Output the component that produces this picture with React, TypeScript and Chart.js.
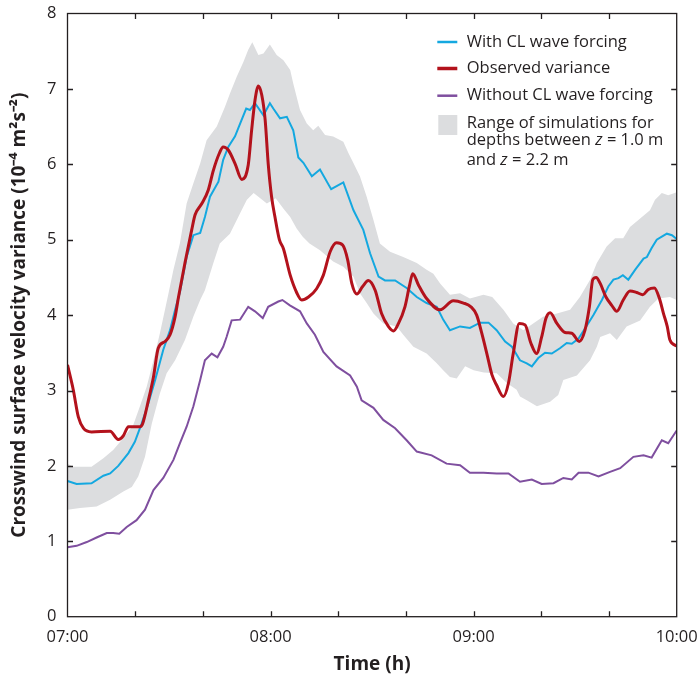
import React, { useEffect, useRef } from "react";
import { Chart, registerables } from "chart.js";

Chart.register(...registerables);

// Time in minutes after 07:00
const withoutT = [0, 2.7, 5.7, 8.6, 11.6, 13.5, 15.3, 17.5, 20.4, 22.9, 25.4, 28.3, 31.3, 33.2, 35.2, 37.2, 39.2, 40.6, 42.6, 44.3, 46, 47, 48.5, 51, 53.4, 55.4, 57.7, 59.3, 62.3, 63.5, 65.7, 68.7, 70.7, 73.1, 75.6, 79.5, 83.5, 85.5, 86.9, 90.4, 93.3, 96.8, 100.2, 103.2, 107.6, 112, 116, 118.9, 122.9, 126.8, 130.3, 133.7, 137.2, 140.1, 143.6, 146.5, 149, 151, 153.9, 156.9, 160.3, 163.3, 167.2, 170.2, 172.6, 175.6, 177.5, 180];
const withoutV = [0.92, 0.94, 0.99, 1.05, 1.11, 1.11, 1.1, 1.19, 1.28, 1.42, 1.68, 1.84, 2.08, 2.3, 2.52, 2.79, 3.14, 3.4, 3.49, 3.44, 3.58, 3.71, 3.93, 3.94, 4.11, 4.05, 3.96, 4.11, 4.18, 4.2, 4.13, 4.05, 3.89, 3.74, 3.51, 3.32, 3.2, 3.05, 2.87, 2.77, 2.61, 2.5, 2.34, 2.19, 2.14, 2.03, 2.01, 1.91, 1.91, 1.9, 1.9, 1.79, 1.82, 1.76, 1.77, 1.84, 1.82, 1.91, 1.91, 1.86, 1.92, 1.97, 2.12, 2.14, 2.11, 2.34, 2.3, 2.47];

const withT = [0, 2.7, 7.1, 10.6, 12.6, 15, 18, 19.9, 21.9, 23.9, 25.9, 28.3, 30.3, 31.8, 33.2, 35.2, 37.2, 39.2, 40.6, 42.1, 44.6, 46, 47.5, 49.5, 51, 52.8, 53.9, 55.4, 57.9, 59.8, 60.8, 62.8, 64.8, 66.7, 68.2, 69.7, 72.2, 74.6, 77.9, 81.5, 84.5, 87.4, 89.4, 91.9, 93.8, 96.8, 100.2, 103.2, 106.1, 109.1, 111, 113, 116, 118.9, 121.9, 124.4, 126.8, 129.3, 131.3, 133.7, 135.7, 137.2, 139.1, 141.1, 143.1, 145.5, 147.5, 149, 151, 153, 155.4, 157.9, 159.8, 161.3, 162.8, 164.1, 165.7, 167.7, 170.2, 171.2, 172.6, 174.1, 175.6, 177.1, 178.6, 180];
const withV = [1.8, 1.76, 1.77, 1.87, 1.9, 2.0, 2.17, 2.32, 2.56, 2.83, 3.14, 3.54, 3.8, 4.07, 4.3, 4.77, 5.06, 5.09, 5.3, 5.57, 5.77, 6.06, 6.23, 6.37, 6.54, 6.74, 6.72, 6.81, 6.65, 6.81, 6.74, 6.61, 6.63, 6.45, 6.09, 6.02, 5.84, 5.93, 5.67, 5.76, 5.39, 5.13, 4.82, 4.51, 4.46, 4.46, 4.36, 4.24, 4.16, 4.11, 3.94, 3.8, 3.85, 3.83, 3.9, 3.9, 3.8, 3.65, 3.58, 3.4, 3.36, 3.32, 3.43, 3.5, 3.49, 3.56, 3.63, 3.62, 3.69, 3.83, 4.0, 4.2, 4.38, 4.47, 4.49, 4.53, 4.47, 4.6, 4.75, 4.77, 4.89, 5.0, 5.04, 5.08, 5.06, 5.01];

const obsT = [0, 1.7, 3.2, 4.7, 7.1, 12.6, 15, 16.5, 18, 21.4, 22.2, 23.9, 25.4, 26.8, 28.8, 30.3, 31.8, 32.8, 34.7, 36.7, 37.7, 39.7, 41.6, 43.1, 44.9, 46, 47.5, 49.5, 51.5, 53.4, 54.4, 55.4, 56.4, 57.4, 58.4, 59.3, 60.3, 61.3, 62.6, 63.8, 65.8, 67.7, 69.2, 71.2, 73.6, 75.6, 77.6, 79.5, 81.3, 82.8, 84, 85.5, 87.2, 88.9, 90.9, 92.8, 94.8, 96.3, 97.8, 99.7, 101, 102, 103.7, 106.1, 110.1, 114, 117, 119.2, 120.9, 122.4, 123.9, 125.4, 126.8, 128.8, 130.3, 131.7, 133.5, 135.2, 136.9, 138.6, 140.1, 141.4, 142.6, 144.6, 147, 149, 151.2, 152.9, 154.2, 155.2, 156.2, 157.4, 159.1, 160.8, 162.3, 164.2, 166.2, 168.2, 170, 171.6, 173.4, 174.9, 176.1, 177.2, 178, 180];
const obsV = [3.34, 3.01, 2.65, 2.5, 2.45, 2.46, 2.35, 2.4, 2.52, 2.52, 2.56, 2.87, 3.18, 3.56, 3.65, 3.74, 3.98, 4.24, 4.69, 5.13, 5.33, 5.48, 5.66, 5.92, 6.15, 6.23, 6.19, 6.01, 5.8, 5.99, 6.45, 6.85, 7.04, 6.92, 6.59, 6.01, 5.57, 5.3, 5.0, 4.88, 4.53, 4.3, 4.2, 4.24, 4.35, 4.53, 4.84, 4.96, 4.93, 4.73, 4.42, 4.28, 4.38, 4.46, 4.33, 4.02, 3.85, 3.79, 3.89, 4.11, 4.38, 4.55, 4.4, 4.22, 4.07, 4.19, 4.16, 4.11, 4.0, 3.76, 3.49, 3.21, 3.07, 2.92, 3.1, 3.49, 3.89, 3.87, 3.63, 3.49, 3.71, 3.96, 4.03, 3.89, 3.77, 3.76, 3.65, 3.8, 4.11, 4.47, 4.5, 4.42, 4.24, 4.13, 4.05, 4.2, 4.32, 4.3, 4.27, 4.34, 4.36, 4.22, 4.02, 3.85, 3.67, 3.59];

const upperT = [0, 1.7, 7.1, 10.6, 13.5, 16.5, 19.4, 21.4, 23.4, 25.4, 27.3, 28.8, 29.8, 31.3, 33.2, 35.2, 37.2, 39.2, 41.1, 44.1, 46.5, 48, 50, 52, 53.4, 54.6, 56.4, 57.9, 59.8, 61.8, 63.8, 65.8, 66.7, 68.7, 70.7, 72.6, 74.1, 76.1, 78.5, 81.5, 83, 84, 86.4, 88.4, 90.4, 92.3, 95.3, 99.2, 103.2, 106.1, 108.1, 110.1, 113, 116, 118.9, 122.9, 125.5, 128.8, 131.7, 134.7, 137.6, 140.6, 144.6, 148.5, 151.4, 154.4, 156.4, 159.3, 161.8, 164.2, 166.2, 169.2, 172.1, 173.6, 175.6, 177.5, 180];
const upperV = [2.03, 1.99, 1.99, 2.1, 2.21, 2.37, 2.54, 2.79, 3.05, 3.4, 3.76, 4.07, 4.28, 4.6, 4.95, 5.48, 5.75, 6.01, 6.32, 6.5, 6.76, 6.94, 7.16, 7.36, 7.52, 7.62, 7.45, 7.47, 7.59, 7.45, 7.38, 7.25, 7.07, 6.72, 6.54, 6.45, 6.51, 6.39, 6.37, 6.3, 6.15, 6.06, 5.84, 5.57, 5.26, 4.95, 4.84, 4.77, 4.69, 4.6, 4.55, 4.42, 4.27, 4.29, 4.22, 4.27, 4.24, 4.07, 3.89, 3.8, 3.89, 3.98, 4.02, 4.07, 4.24, 4.47, 4.69, 4.91, 5.02, 5.02, 5.17, 5.28, 5.39, 5.53, 5.62, 5.59, 5.63];

const lowerT = [0, 3.7, 8.6, 12.6, 16.5, 19, 20.9, 22.9, 24.9, 27.3, 29.3, 31.8, 34.7, 37.2, 39.2, 40.6, 43.1, 45, 48, 51, 53, 55, 56.4, 58.9, 61.5, 64, 65.8, 67.7, 69.5, 71.5, 74.6, 78.5, 81.5, 84.5, 86.4, 88.4, 90.4, 93.3, 97.3, 99.2, 102.2, 106.1, 109.1, 111, 113, 115, 117.5, 120, 123, 126.8, 129.8, 132.7, 133.7, 135.7, 138.7, 142.6, 145, 146.5, 150.5, 154.4, 156.4, 157.4, 160.3, 162.3, 165.2, 169.2, 172.1, 174.6, 178, 180];
const lowerV = [1.42, 1.44, 1.46, 1.55, 1.66, 1.72, 1.86, 2.12, 2.56, 2.96, 3.23, 3.4, 3.67, 3.98, 4.2, 4.33, 4.69, 4.95, 5.08, 5.35, 5.53, 5.62, 5.57, 5.48, 5.55, 5.4, 5.3, 5.15, 5.04, 4.95, 4.86, 4.71, 4.64, 4.51, 4.29, 4.16, 4.02, 3.89, 3.85, 3.74, 3.58, 3.49, 3.36, 3.27, 3.18, 3.16, 3.32, 3.27, 3.24, 3.23, 3.1, 3.01, 2.92, 2.87, 2.79, 2.85, 2.94, 3.14, 3.2, 3.4, 3.58, 3.71, 3.76, 3.67, 3.85, 3.93, 4.11, 4.22, 4.24, 4.2];

const hourLabels = ["07:00", "08:00", "09:00", "10:00"];
const minorTicksX = [20, 40, 60, 80, 100, 120, 140, 160];
const ticksY = [1, 2, 3, 4, 5, 6, 7];

const legendLines = [
  { label: "With CL wave forcing", color: "#14a8e0", width: 2.5 },
  { label: "Observed variance", color: "#b3121c", width: 3.5 },
  { label: "Without CL wave forcing", color: "#7f4f9f", width: 2.5 },
];
const bandLabel = ["Range of simulations for", "depths between |z| = 1.0 m", "and |z| = 2.2 m"];

const FONT = '"Open Sans", sans-serif';
const INK = "#231f20";
const BAND = "#dcdddf";

const pts = (t: number[], v: number[]) => t.map((x, i) => ({ x, y: v[i] }));

const framePlugin = {
  id: "frame",
  afterDraw(chart: any) {
    const { ctx, chartArea: a, scales } = chart;
    const xs = scales.x;
    const ys = scales.y;
    ctx.save();
    ctx.strokeStyle = INK;
    ctx.lineWidth = 1.3;
    ctx.strokeRect(a.left, a.top, a.right - a.left, a.bottom - a.top);
    const L = 5.5;
    ctx.beginPath();
    for (const m of minorTicksX) {
      const px = Math.round(xs.getPixelForValue(m)) + 0.5;
      ctx.moveTo(px, a.bottom);
      ctx.lineTo(px, a.bottom - L);
      ctx.moveTo(px, a.top);
      ctx.lineTo(px, a.top + L);
    }
    for (const v of ticksY) {
      const py = Math.round(ys.getPixelForValue(v)) + 0.5;
      ctx.moveTo(a.left, py);
      ctx.lineTo(a.left + L, py);
      ctx.moveTo(a.right, py);
      ctx.lineTo(a.right - L, py);
    }
    ctx.stroke();

    // legend
    const lx = a.right - 239.4;
    const tx = lx + 29.4;
    const rowY = [a.top + 28.5, a.top + 55, a.top + 82.2];
    const size = 16.5;
    ctx.font = `${size}px ${FONT}`;
    ctx.fillStyle = INK;
    ctx.textBaseline = "middle";
    ctx.textAlign = "left";
    legendLines.forEach((it, i) => {
      ctx.strokeStyle = it.color;
      ctx.lineWidth = it.width;
      ctx.beginPath();
      ctx.moveTo(lx, rowY[i]);
      ctx.lineTo(lx + 20, rowY[i]);
      ctx.stroke();
      ctx.fillText(it.label, tx, rowY[i]);
    });
    ctx.fillStyle = BAND;
    ctx.fillRect(lx + 1, a.top + 101.5, 19, 20);
    ctx.fillStyle = INK;
    const bandY = [a.top + 109.8, a.top + 127, a.top + 146.3];
    bandLabel.forEach((line, i) => {
      const parts = line.split("|");
      let x = tx;
      parts.forEach((p, j) => {
        ctx.font = j % 2 === 1 ? `italic ${size}px ${FONT}` : `${size}px ${FONT}`;
        ctx.fillText(p, x, bandY[i]);
        x += ctx.measureText(p).width;
      });
    });
    ctx.restore();
  },
};

export default function App() {
  const ref = useRef<HTMLCanvasElement | null>(null);
  useEffect(() => {
    document.body.style.margin = "0";
    const canvas = ref.current;
    if (!canvas) return;
    const chart = new Chart(canvas, {
      type: "line",
      data: {
        datasets: [
          {
            label: "Observed variance",
            data: pts(obsT, obsV),
            borderColor: "#b3121c",
            borderWidth: 3,
            pointRadius: 0,
            cubicInterpolationMode: "monotone",
            fill: false,
            order: 0,
          },
          {
            label: "With CL wave forcing",
            data: pts(withT, withV),
            borderColor: "#14a8e0",
            borderWidth: 2,
            pointRadius: 0,
            tension: 0,
            fill: false,
            order: 1,
          },
          {
            label: "Without CL wave forcing",
            data: pts(withoutT, withoutV),
            borderColor: "#7f4f9f",
            borderWidth: 2,
            pointRadius: 0,
            tension: 0,
            fill: false,
            order: 2,
          },
          {
            label: "Range upper",
            data: pts(upperT, upperV),
            borderColor: BAND,
            borderWidth: 0,
            backgroundColor: BAND,
            pointRadius: 0,
            tension: 0,
            fill: "+1",
            order: 3,
          },
          {
            label: "Range lower",
            data: pts(lowerT, lowerV),
            borderColor: BAND,
            borderWidth: 0,
            backgroundColor: BAND,
            pointRadius: 0,
            tension: 0,
            fill: false,
            order: 4,
          },
        ],
      },
      options: {
        animation: false,
        responsive: false,
        maintainAspectRatio: false,
        layout: { padding: { top: 13.5, right: 22.3, left: 0, bottom: 0 } },
        plugins: { legend: { display: false }, tooltip: { enabled: false } },
        scales: {
          x: {
            type: "linear",
            min: 0,
            max: 180,
            afterFit: (s: any) => {
              s.height = 60.3;
              s.paddingLeft = 0;
              s.paddingRight = 0;
            },
            grid: { display: false, drawTicks: false },
            border: { display: false },
            ticks: {
              stepSize: 60,
              padding: 11,
              maxRotation: 0,
              color: INK,
              font: { family: FONT, size: 16.5 },
              callback: (v: any) => hourLabels[Math.round(Number(v) / 60)] ?? "",
            },
            title: {
              display: true,
              text: "Time (h)",
              color: INK,
              font: { family: FONT, size: 19, weight: "bold" },
              padding: { top: 0, bottom: 1 },
            },
          },
          y: {
            min: 0,
            max: 8,
            afterFit: (s: any) => {
              s.width = 67.5;
              s.paddingTop = 0;
              s.paddingBottom = 0;
            },
            grid: { display: false, drawTicks: false },
            border: { display: false },
            ticks: {
              stepSize: 1,
              padding: 11,
              color: INK,
              font: { family: FONT, size: 16.5 },
            },
            title: {
              display: true,
              text: "Crosswind surface velocity variance (10⁻⁴ m²s⁻²)",
              color: INK,
              font: { family: FONT, size: 19, weight: "bold" },
              padding: { top: 8.5, bottom: 0 },
            },
          },
        },
      },
      plugins: [framePlugin],
    });
    return () => chart.destroy();
  }, []);
  return (
    <div style={{ position: "absolute", left: 0, top: 0, width: 699, height: 677 }}>
      <canvas ref={ref} width={699} height={677} />
    </div>
  );
}
